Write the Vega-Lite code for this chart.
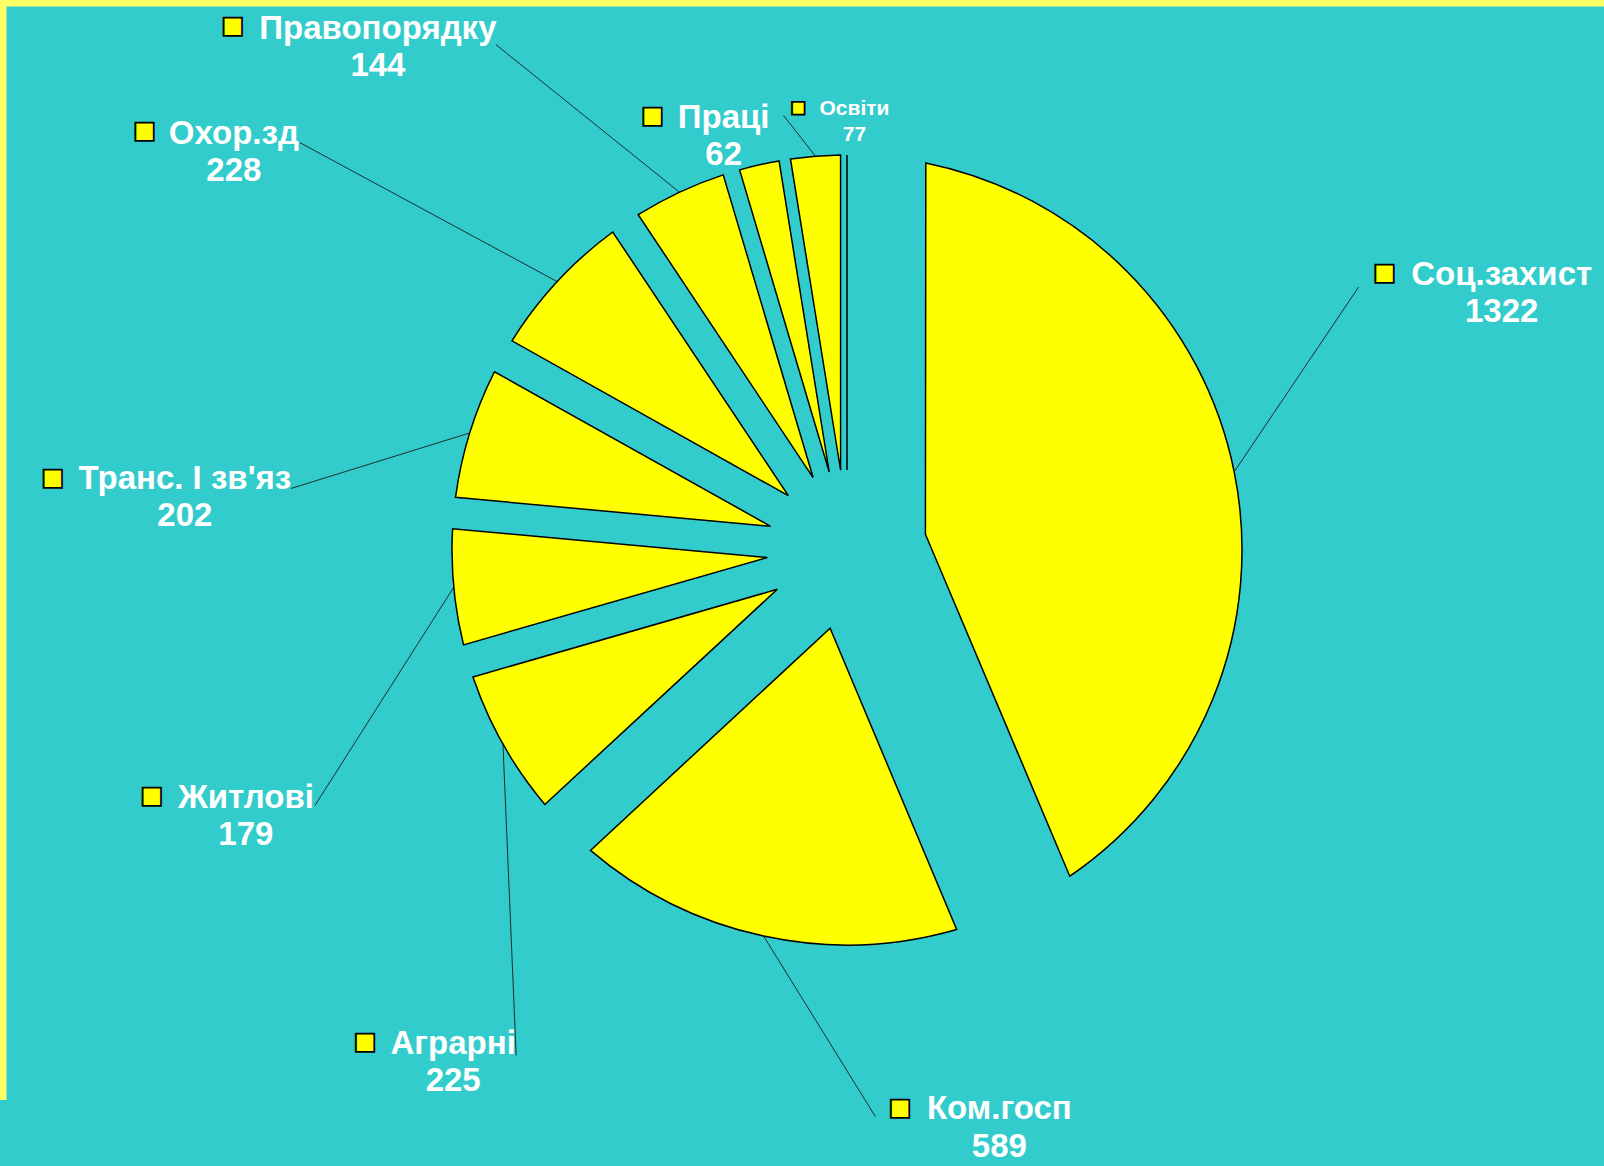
{
  "$schema": "https://vega.github.io/schema/vega-lite/v6.json",
  "width": 1694,
  "height": 1100,
  "autosize": {"type": "none"},
  "padding": {"left": 0, "top": 0, "right": -90, "bottom": 66},
  "background": "#33CCCC",
  "view": {"stroke": "#FFFF66", "strokeWidth": 13, "strokeDash": [1694, 2794, 1100], "fill": null},
  "data": {
    "values": [
      {"name": "Соц.захист", "value": 1322},
      {"name": "Ком.госп", "value": 589},
      {"name": "Аграрні", "value": 225},
      {"name": "Житлові", "value": 179},
      {"name": "Транс. І зв'яз", "value": 202},
      {"name": "Охор.зд", "value": 228},
      {"name": "Правопорядку", "value": 144},
      {"name": "Праці", "value": 62},
      {"name": "Освіти", "value": 77},
      {"name": "", "value": 0}
    ]
  },
  "transform": [
    {"joinaggregate": [{"op": "sum", "field": "value", "as": "total"}]},
    {"window": [{"op": "row_number", "as": "idx"}]}
  ],
  "layer": [
    {
      "transform": [
        {"stack": "value", "groupby": [], "sort": [{"field": "idx"}], "as": ["v0", "v1"]},
        {"filter": "datum.value > 0 && datum.value !== 62"}
      ],
      "mark": {"type": "rule", "color": "#1c2e2e", "strokeWidth": 1},
      "encoding": {
        "x": {"value": {"expr": "width/2 + 395*sin(PI*(datum.v0+datum.v1)/datum.total)"}},
        "y": {"value": {"expr": "height/2 - 395*cos(PI*(datum.v0+datum.v1)/datum.total)"}},
        "x2": {"value": {"expr": "width/2 + 420*sin(PI*(datum.v0+datum.v1)/datum.total) + [100,117,35,-114,-155,-239,-173,0,-30][indexof([1322,589,225,179,202,228,144,62,77], datum.value)]"}},
        "y2": {"value": {"expr": "height/2 - 420*cos(PI*(datum.v0+datum.v1)/datum.total) + [-180,156,299,216,63,-122,-125,0,-16][indexof([1322,589,225,179,202,228,144,62,77], datum.value)]"}}
      }
    },
    {
      "mark": {
        "type": "arc",
        "innerRadius": 80,
        "outerRadius": 395,
        "padAngle": {"expr": "2*asin(min(1, 1.005*80*sin(PI*datum.value/datum.total)/403))"},
        "fill": "#FFFF00",
        "stroke": "#000000",
        "strokeWidth": 1.5
      },
      "encoding": {
        "theta": {"field": "value", "type": "quantitative", "stack": true},
        "order": {"field": "idx", "type": "quantitative"}
      }
    },
    {
      "transform": [{"filter": "datum.value > 0"}],
      "mark": {
        "type": "text",
        "radius": 420,
        "font": "Liberation Sans",
        "fontWeight": "bold",
        "fontSize": {"expr": "datum.value === 77 ? 21 : 33"},
        "color": "#FFFFFF",
        "align": "center",
        "baseline": "alphabetic",
        "dx": {"expr": "[243,241,-28,-183,-261,-305,-291,-30,41][indexof([1322,589,225,179,202,228,144,62,77], datum.value)]"},
        "dy": {"expr": "[-182,158,298,218,63,-121,-131,-13,-16][indexof([1322,589,225,179,202,228,144,62,77], datum.value)]"}
      },
      "encoding": {
        "theta": {"field": "value", "type": "quantitative", "stack": true},
        "order": {"field": "idx", "type": "quantitative"},
        "text": {"field": "name", "type": "nominal"}
      }
    },
    {
      "transform": [{"filter": "datum.value > 0"}],
      "mark": {
        "type": "text",
        "radius": 420,
        "font": "Liberation Sans",
        "fontWeight": "bold",
        "fontSize": {"expr": "datum.value === 77 ? 21 : 33"},
        "color": "#FFFFFF",
        "align": "center",
        "baseline": "alphabetic",
        "dx": {"expr": "[243,241,-28,-183,-261,-305,-291,-30,41][indexof([1322,589,225,179,202,228,144,62,77], datum.value)]"},
        "dy": {"expr": "[-145,196,335,255,100,-84,-94,24,10][indexof([1322,589,225,179,202,228,144,62,77], datum.value)]"}
      },
      "encoding": {
        "theta": {"field": "value", "type": "quantitative", "stack": true},
        "order": {"field": "idx", "type": "quantitative"},
        "text": {"field": "value", "type": "quantitative", "format": "d"}
      }
    },
    {
      "transform": [{"filter": "datum.value > 0"}],
      "mark": {
        "type": "text",
        "radius": 420,
        "font": "Liberation Sans",
        "fontSize": {"expr": "datum.value === 77 ? 26 : 38"},
        "color": "#FFFF00",
        "stroke": "#000000",
        "strokeWidth": 1.8,
        "align": "center",
        "baseline": "middle",
        "dx": {"expr": "[126,142,-116,-277,-393,-394,-436,-101,-15][indexof([1322,589,225,179,202,228,144,62,77], datum.value)]"},
        "dy": {"expr": "[-193,148,287,207,53,-133,-143,-24,-23][indexof([1322,589,225,179,202,228,144,62,77], datum.value)]"}
      },
      "encoding": {
        "theta": {"field": "value", "type": "quantitative", "stack": true},
        "order": {"field": "idx", "type": "quantitative"},
        "text": {"value": "■"}
      }
    }
  ]
}
